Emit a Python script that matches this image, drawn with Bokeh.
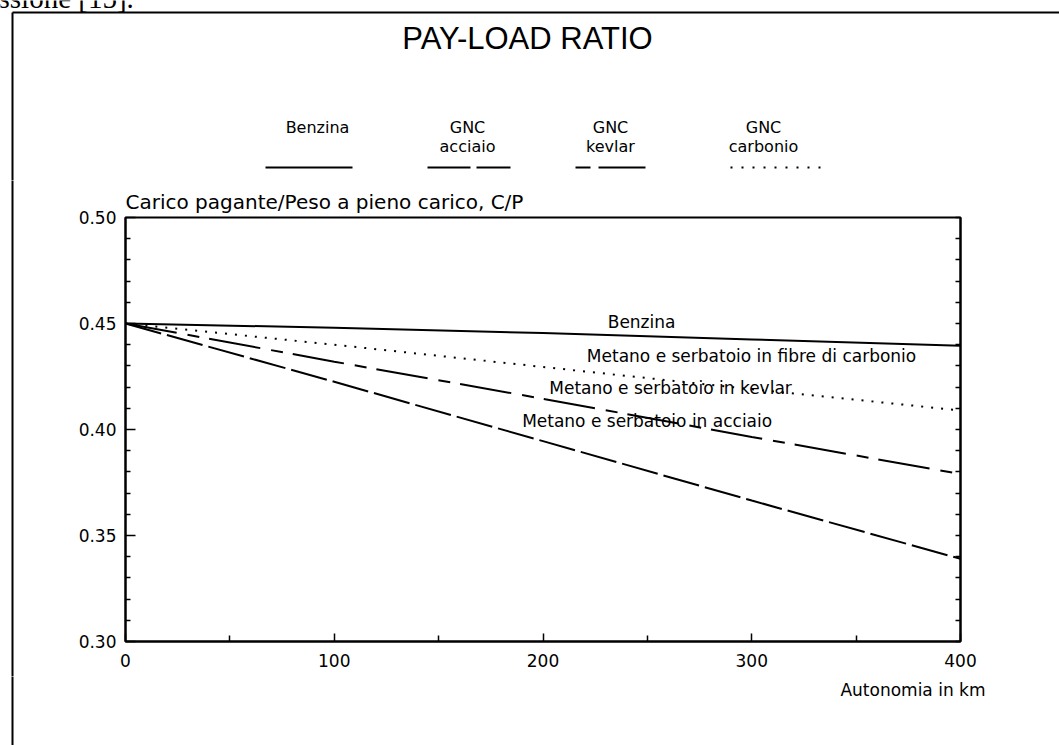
from bokeh.plotting import figure
from bokeh.models import Range1d, LinearAxis, FixedTicker, PrintfTickFormatter, ColumnDataSource
from bokeh.layouts import row, column
from bokeh.core.properties import value
from bokeh.embed import file_html
from bokeh.resources import INLINE

# ---------------- data ----------------
autonomia_km = [0, 100, 200, 300, 400]
benzina = [0.4500, 0.4480, 0.4455, 0.4425, 0.4395]
gnc_carbonio = [0.4500, 0.4400, 0.4295, 0.4190, 0.4090]
gnc_kevlar = [0.4500, 0.4320, 0.4145, 0.3965, 0.3790]
gnc_acciaio = [0.4500, 0.4225, 0.3945, 0.3665, 0.3390]

y_ticks = [0.30, 0.35, 0.40, 0.45, 0.50]
y_minor = [0.31, 0.32, 0.33, 0.34, 0.36, 0.37, 0.38, 0.39,
           0.41, 0.42, 0.43, 0.44, 0.46, 0.47, 0.48, 0.49]
x_ticks = [0, 100, 200, 300, 400]
x_minor = [50, 150, 250, 350]

title_text = "PAY-LOAD RATIO"
y_title = "Carico pagante/Peso a pieno carico, C/P"
x_title = "Autonomia in km"
page_text = "ssione [15]."
series_labels = ["Benzina",
                 "Metano e serbatoio in fibre di carbonio",
                 "Metano e  serbatoio in kevlar",
                 "Metano e serbatoio in acciaio"]
legend_top = ["Benzina", "GNC", "GNC", "GNC"]
legend_bottom = ["", "acciaio", "kevlar", "carbonio"]

FONT = "DejaVu Sans"
W, H = 1059, 745
STRIP = 20
TOP_H = 180
BOT_H = 69
MID_H = H - TOP_H - BOT_H


def deco(width, height, x0, x1, y0, y1):
    f = figure(width=width, height=height, x_range=Range1d(x0, x1), y_range=Range1d(y1, y0),
               x_axis_type=None, y_axis_type=None, output_backend="svg", toolbar_location=None,
               min_border=0, outline_line_color=None)
    f.frame_align = False
    f.background_fill_color = "white"
    f.border_fill_color = "white"
    return f


# ---------------- main plot ----------------
main = figure(width=W - STRIP, height=MID_H, title=y_title,
              x_range=Range1d(0, 400), y_range=Range1d(0.30, 0.50),
              output_backend="svg", toolbar_location=None,
              min_border_left=125 - STRIP, min_border_right=W - 960,
              min_border_top=217 - TOP_H, min_border_bottom=TOP_H + MID_H - 641)
main.frame_align = False
main.xgrid.visible = False
main.ygrid.visible = False
main.outline_line_color = "black"
main.outline_line_width = 2
main.background_fill_color = "white"
main.border_fill_color = "white"

main.title.align = "left"
main.title.text_font = FONT
main.title.text_font_size = "20px"
main.title.text_font_style = "normal"
main.title.text_color = "black"
main.title.standoff = 7

xa = main.xaxis[0]
xa.ticker = FixedTicker(ticks=x_ticks, minor_ticks=x_minor)
xa.major_tick_in = 8
xa.major_tick_out = 0
xa.minor_tick_in = 6
xa.minor_tick_out = 0
xa.major_label_standoff = 12
xa.axis_line_width = 2
xa.major_tick_line_width = 1.5
xa.minor_tick_line_width = 1.5
xa.major_label_text_font = FONT
xa.major_label_text_font_size = "17px"
xa.major_label_text_color = "black"

ya = main.yaxis[0]
ya.ticker = FixedTicker(ticks=y_ticks, minor_ticks=y_minor)
ya.formatter = PrintfTickFormatter(format="%.2f")
ya.major_tick_in = 10
ya.major_tick_out = 0
ya.minor_tick_in = 5
ya.minor_tick_out = 0
ya.major_label_standoff = 9
ya.axis_line_width = 2
ya.major_tick_line_width = 1.5
ya.minor_tick_line_width = 1.5
ya.major_label_text_font = FONT
ya.major_label_text_font_size = "17px"
ya.major_label_text_color = "black"

ra = LinearAxis(ticker=FixedTicker(ticks=sorted(y_ticks + y_minor)))
ra.major_tick_in = 5
ra.major_tick_out = 0
ra.minor_tick_in = 0
ra.minor_tick_out = 0
ra.major_tick_line_width = 1.5
ra.axis_line_width = 2
ra.major_label_text_color = None
main.add_layout(ra, "right")

src = ColumnDataSource(dict(x=autonomia_km, benzina=benzina, carbonio=gnc_carbonio,
                            kevlar=gnc_kevlar, acciaio=gnc_acciaio))
main.line("x", "benzina", source=src, line_color="black", line_width=2)
main.line("x", "carbonio", source=src, line_color="black", line_width=2, line_dash="2 8")
main.line("x", "kevlar", source=src, line_color="black", line_width=2, line_dash="52 11 12 10")
main.line("x", "acciaio", source=src, line_color="black", line_width=2, line_dash="37 6")

main.text(x=[231, 221, 203, 190], y=[0.4509, 0.4349, 0.4198, 0.4038], text=series_labels,
          text_font=value(FONT), text_font_size=value("17px"), text_color="black",
          text_align="left", text_baseline="middle")

# ---------------- top decoration (scan text, border, title, legend) ----------------
top = deco(W, TOP_H, 0, W, 0, TOP_H)
top.text(x=[-2], y=[-3], text=[page_text], text_font=value("Liberation Serif"),
         text_font_size=value("29px"), text_color="black", text_align="left", text_baseline="middle")
top.line([12, W], [12, 12], line_color="black", line_width=2)
top.line([12, 12], [12, TOP_H + 3], line_color="black", line_width=2)
top.text(x=[527], y=[38], text=[title_text], text_font=value("Liberation Sans"),
         text_font_size=value("31px"), text_color="black", text_align="center", text_baseline="middle")
leg_x = [317, 467, 610, 763]
top.text(x=leg_x, y=[127] * 4, text=legend_top, text_font=value(FONT), text_font_size=value("16px"),
         text_color="black", text_align="center", text_baseline="alphabetic")
top.text(x=leg_x, y=[146] * 4, text=legend_bottom, text_font=value(FONT), text_font_size=value("16px"),
         text_color="black", text_align="center", text_baseline="alphabetic")
top.line([265, 352], [167, 167], line_color="black", line_width=2)
top.line([427, 510], [167, 167], line_color="black", line_width=2, line_dash="43 6")
top.line([575, 645], [167, 167], line_color="black", line_width=2, line_dash="15 8 47 8")
top.line([730, 822], [167, 167], line_color="black", line_width=2, line_dash="2 9")

# ---------------- left strip (scan border) ----------------
strip = deco(STRIP, MID_H, 0, STRIP, TOP_H, TOP_H + MID_H)
strip.line([12, 12], [TOP_H - 3, TOP_H + MID_H + 3], line_color="black", line_width=2)

# ---------------- bottom decoration (x title) ----------------
bottom = deco(W, BOT_H, 0, W, TOP_H + MID_H, H)
bottom.line([12, 12], [TOP_H + MID_H - 3, H + 3], line_color="black", line_width=2)
bottom.text(x=[985], y=[689], text=[x_title], text_font=value(FONT), text_font_size=value("17px"),
            text_color="black", text_align="right", text_baseline="middle")

layout = column(top, row(strip, main), bottom)
open("out.html", "w").write(file_html(layout, INLINE))
